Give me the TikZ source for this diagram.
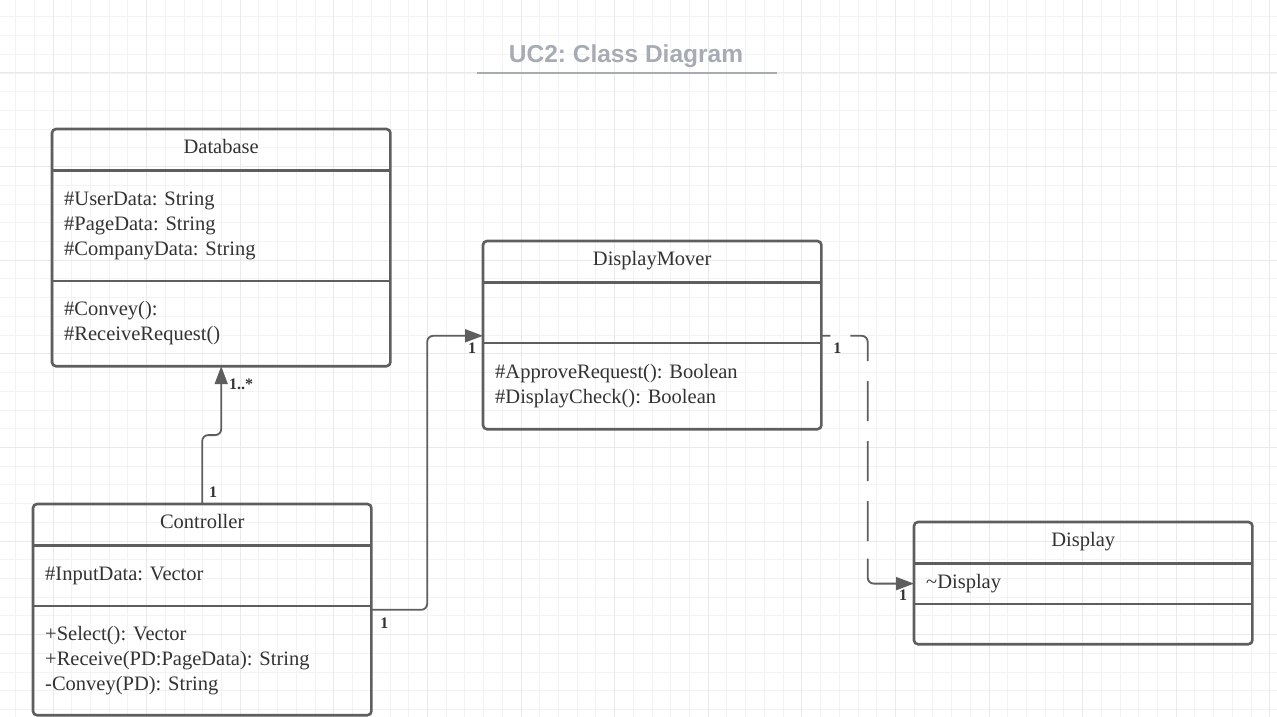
\documentclass[tikz,border=0pt]{standalone}
\usepackage{fontspec}
\setmainfont{Liberation Serif}
\newfontfamily\titlefont{Liberation Sans}
\usepackage{tikz}
\usetikzlibrary{positioning, arrows.meta, calc}
\definecolor{linegray}{HTML}{5E5E5E}
\definecolor{textgray}{HTML}{333333}
\definecolor{titlegray}{HTML}{A7ACB4}
\definecolor{gridminor}{HTML}{F3F3F3}
\definecolor{gridmajor}{HTML}{E9E9E9}
\frenchspacing

\begin{document}
\begin{tikzpicture}[x=1pt, y=-1pt]
        \tikzstyle{classhead} = [rectangle, minimum width=338pt, minimum height=41pt, inner sep=0pt, text height=14pt, text depth=6pt, text centered, text=textgray, font=\fontsize{20.5}{25}\selectfont]
        \tikzstyle{classpart} = [rectangle, text width=314pt, inner xsep=12pt, inner ysep=0pt, align=left, text=textgray, font=\fontsize{20.5}{25}\selectfont]
        \tikzstyle{border} = [draw=linegray, line width=2.6pt]
        \tikzstyle{link} = [draw=linegray, line width=1.8pt, rounded corners=6pt]
        \tikzstyle{arrow} = [link, -{Triangle[length=18pt, width=13pt]}]
        \tikzstyle{mult} = [inner sep=0pt, text=textgray, font=\bfseries\fontsize{16}{18}\selectfont]

        % grid background
        \useasboundingbox (0,0) rectangle (1277,717);
        \fill[white] (0,0) rectangle (1277,717);
        \foreach \k in {-2,...,65}
            \draw[gridminor, line width=0.9pt] ({53+18.72*\k},0) -- ({53+18.72*\k},717);
        \foreach \k in {-3,...,34}
            \draw[gridminor, line width=0.9pt] (0,{73+18.72*\k}) -- (1277,{73+18.72*\k});
        \foreach \k in {0,...,13}
            \draw[gridmajor, line width=1pt] ({53+93.6*\k},0) -- ({53+93.6*\k},717);
        \foreach \k in {0,...,6}
            \draw[gridmajor, line width=1pt] (0,{73+93.6*\k}) -- (1277,{73+93.6*\k});

        % title
        \node [anchor=base, inner sep=0pt, text=titlegray, font=\titlefont\bfseries\fontsize{24.5}{28}\selectfont] (title) at (626,63) {UC2: Class Diagram};
        \draw [titlegray, line width=1.8pt] (477,73) -- (777,73);

        % Database
        \node [classhead, anchor=north west] (db) at (52,129) {Database};
        \node [classpart, minimum height=110pt, below=0pt of db] (dbattr) {\#UserData: String\\\#PageData: String\\\#CompanyData: String};
        \node [classpart, minimum height=85pt, below=0pt of dbattr] (dbops) {\#Convey():\\\#ReceiveRequest()};
        \draw [border, rounded corners=4pt] (db.north west) rectangle (dbops.south east);
        \draw [border] (dbattr.north west) -- (dbattr.north east);
        \draw [border] (dbops.north west) -- (dbops.north east);

        % DisplayMover
        \node [classhead, anchor=north west] (dm) at (483,241) {DisplayMover};
        \node [classpart, minimum height=60pt, below=0pt of dm] (dmattr) {};
        \node [classpart, minimum height=86pt, below=0pt of dmattr] (dmops) {\#ApproveRequest(): Boolean\\\#DisplayCheck(): Boolean};
        \draw [border, rounded corners=4pt] (dm.north west) rectangle (dmops.south east);
        \draw [border] (dmattr.north west) -- (dmattr.north east);
        \draw [border] (dmops.north west) -- (dmops.north east);

        % Controller
        \node [classhead, anchor=north west] (ctrl) at (33,504) {Controller};
        \node [classpart, minimum height=60pt, below=0pt of ctrl] (ctrlattr) {\#InputData: Vector};
        \node [classpart, minimum height=109pt, below=0pt of ctrlattr] (ctrlops) {+Select(): Vector\\+Receive(PD:PageData): String\\-Convey(PD): String};
        \draw [border, rounded corners=4pt] (ctrl.north west) rectangle (ctrlops.south east);
        \draw [border] (ctrlattr.north west) -- (ctrlattr.north east);
        \draw [border] (ctrlops.north west) -- (ctrlops.north east);

        % Display
        \node [classhead, anchor=north west] (disp) at (914,522) {Display};
        \node [classpart, minimum height=40pt, below=0pt of disp] (dispattr) {\textasciitilde Display};
        \node [classpart, minimum height=40pt, below=0pt of dispattr] (dispops) {};
        \draw [border, rounded corners=4pt] (disp.north west) rectangle (dispops.south east);
        \draw [border] (dispattr.north west) -- (dispattr.north east);
        \draw [border] (dispops.north west) -- (dispops.north east);

        % connector end points
        \coordinate (ctrlout) at ([yshift=-4pt]ctrlops.north east);
        \coordinate (dmin) at ([yshift=7pt]dmops.north west);
        \coordinate (dmout) at ([yshift=7pt]dmops.north east);
        \coordinate (mid1) at ($(ctrl.north)!.5!(dbops.south)$);
        \coordinate (mid2) at ($(ctrlout)!.5!(dmin)$);
        \coordinate (mid3) at ($(dmout)!.5!(dispattr.west)$);
        \coordinate (bend3) at ([yshift=25pt]dispattr.west -| mid3);

        \draw [arrow] (ctrl.north) -- (ctrl.north |- mid1) -- (dbops.south |- mid1) -- (dbops.south);
        \draw [arrow] (ctrlout) -- (ctrlout -| mid2) -- (dmin -| mid2) -- (dmin);
        \draw [link, dash pattern=on 40pt off 20pt, dash phase=31pt] (dmout) -- (dmout -| mid3) -- (bend3);
        \draw [arrow] (bend3) -- (dispattr.west -| mid3) -- (dispattr.west);

        % multiplicities
        \node [mult] (m1) at ([xshift=11pt, yshift=12pt]ctrl.north) {1};
        \node [mult] (m2) at ([xshift=20pt, yshift=-18pt]dbops.south) {1..*};
        \node [mult] (m3) at ([xshift=13pt, yshift=-13pt]ctrlout) {1};
        \node [mult] (m4) at ([xshift=-11pt, yshift=-12pt]dmin) {1};
        \node [mult] (m5) at ([xshift=16pt, yshift=-12pt]dmout) {1};
        \node [mult] (m6) at ([xshift=-11pt, yshift=-12pt]dispattr.west) {1};
\end{tikzpicture}
\end{document}
